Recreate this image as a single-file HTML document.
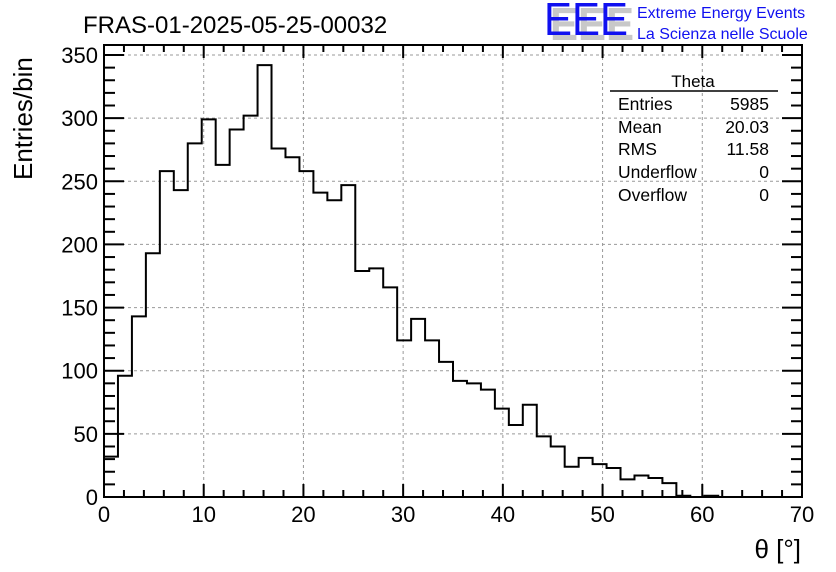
<!DOCTYPE html>
<html><head><meta charset="utf-8"><style>
html,body{margin:0;padding:0;background:#fff;}
svg{display:block;font-family:"Liberation Sans",Arial,sans-serif;}
</style></head><body>
<svg id="chart" width="836" height="572" viewBox="0 0 836 572">
  <rect x="0" y="0" width="836" height="572" fill="#fff"/>
  <text x="83" y="33" font-size="24" fill="#000">FRAS-01-2025-05-25-00032</text>
  <g>
    <text x="550" y="40" font-size="46" fill="#c8c8c8" font-weight="bold" textLength="84" lengthAdjust="spacingAndGlyphs">EEE</text>
    <text x="544" y="35" font-size="46" fill="#1010f0" textLength="84" lengthAdjust="spacingAndGlyphs">EEE</text>
    <text x="637" y="18" font-size="16" fill="#1010f0">Extreme Energy Events</text>
    <text x="637" y="39" font-size="16" fill="#1010f0">La Scienza nelle Scuole</text>
  </g>
  <g id="grid"></g>
  <g id="stats">
    <text x="693" y="87" font-size="17" text-anchor="middle">Theta</text>
    <line x1="610" y1="91" x2="778" y2="91" stroke="#000" stroke-width="1.5"/>
    <text x="618" y="110" font-size="17.5">Entries</text><text x="769" y="110" font-size="17.5" text-anchor="end">5985</text>
    <text x="618" y="133" font-size="17.5">Mean</text><text x="769" y="133" font-size="17.5" text-anchor="end">20.03</text>
    <text x="618" y="155" font-size="17.5">RMS</text><text x="769" y="155" font-size="17.5" text-anchor="end">11.58</text>
    <text x="618" y="178" font-size="17.5">Underflow</text><text x="769" y="178" font-size="17.5" text-anchor="end">0</text>
    <text x="618" y="201" font-size="17.5">Overflow</text><text x="769" y="201" font-size="17.5" text-anchor="end">0</text>
  </g>
  <path id="hist" fill="none" stroke="#000" stroke-width="2"/>
  <g id="axes"></g>
  <text x="801" y="558" font-size="26" text-anchor="end">θ [°]</text>
  <text transform="translate(32,180) rotate(-90)" font-size="26">Entries/bin</text>
</svg>
<script>
const binValues = [32,96,143,193,258,243,280,299,263,291,302,342,276,269,258,241,235,247,179,181,166,124,141,124,107,92,90,85,70,57,73,48,40,24,31,26,23,14,17,15,11,1,0,1,0,0,0,0,0,0];
const xTicks = [0,10,20,30,40,50,60,70];
const yTicks = [0,50,100,150,200,250,300,350];
const xMin=0, xMax=70, binWidth=1.4;
const L=104,R=802,T=45,B=497;
function xs(v){return L+(v-xMin)/(xMax-xMin)*(R-L);}
function ys(v){return B-v*(B-55)/350;}
const NS="http://www.w3.org/2000/svg";
function mk(tag,attrs,parent){const e=document.createElementNS(NS,tag);for(const k in attrs)e.setAttribute(k,attrs[k]);parent.appendChild(e);return e;}
const grid=document.getElementById('grid'), axes=document.getElementById('axes');
xTicks.forEach(t=>{if(t>xMin&&t<xMax){const g=mk('line',{x1:xs(t),x2:xs(t),y1:T,y2:B,stroke:'#999','stroke-dasharray':'3,3','stroke-width':1},grid);

}});
yTicks.forEach(t=>{if(t>0){const g=mk('line',{x1:L,x2:R,y1:ys(t),y2:ys(t),stroke:'#999','stroke-dasharray':'3,3','stroke-width':1},grid);

}});
let d='M'+xs(0)+','+ys(0);
binValues.forEach((v,i)=>{d+=' L'+xs(i*binWidth)+','+ys(v)+' L'+xs((i+1)*binWidth)+','+ys(v);});
document.getElementById('hist').setAttribute('d',d);
mk('rect',{x:L,y:T,width:R-L,height:B-T,fill:'none',stroke:'#000','stroke-width':2},axes);
for(let v=0;v<=70;v+=2){const maj=v%10===0,len=maj?13:7;
mk('line',{x1:xs(v),x2:xs(v),y1:B,y2:B-len,stroke:'#000','stroke-width':2},axes);
mk('line',{x1:xs(v),x2:xs(v),y1:T,y2:T+len,stroke:'#000','stroke-width':2},axes);}
for(let v=0;v<=355;v+=10){if(ys(v)<T)break;const maj=v%50===0,len=maj?20:11;
mk('line',{x1:L,x2:L+len,y1:ys(v),y2:ys(v),stroke:'#000','stroke-width':2},axes);
mk('line',{x1:R,x2:R-len,y1:ys(v),y2:ys(v),stroke:'#000','stroke-width':2},axes);}
xTicks.forEach(t=>{const e=mk('text',{x:xs(t),y:522,'font-size':22,'text-anchor':'middle'},axes);e.textContent=t;

});
yTicks.forEach(t=>{const e=mk('text',{x:98,y:ys(t)+8,'font-size':22,'text-anchor':'end'},axes);e.textContent=t;

});
</script>
</body></html>
